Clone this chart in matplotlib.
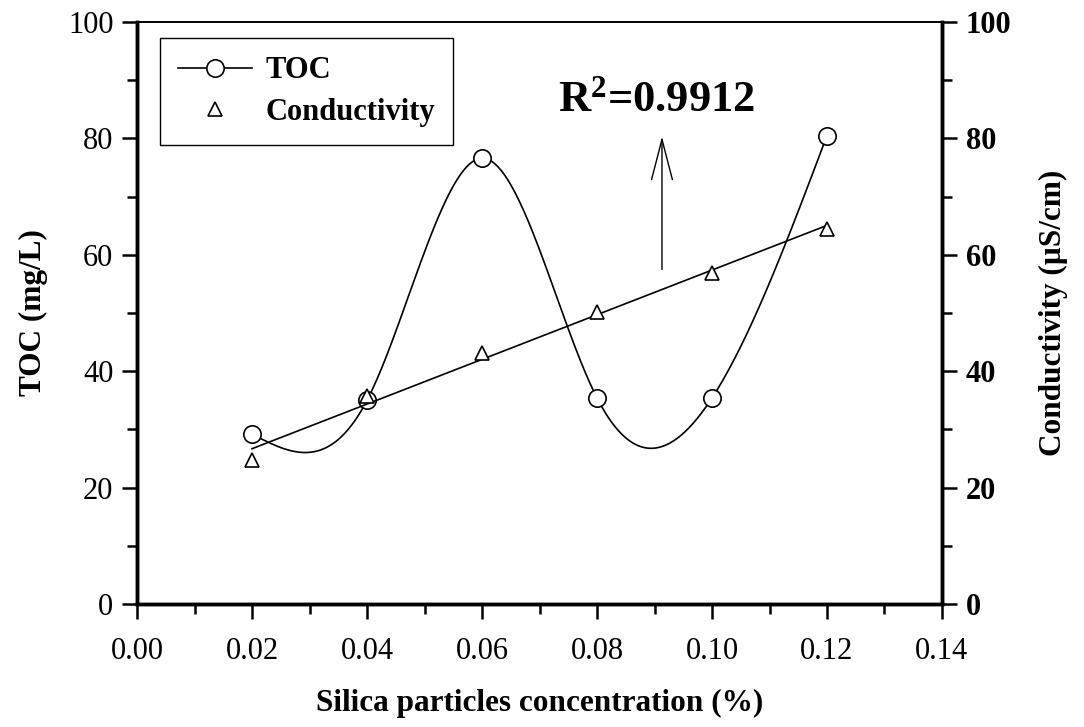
import numpy as np
import matplotlib.pyplot as plt
from matplotlib.ticker import MultipleLocator

plt.rcParams['font.family'] = ['Liberation Serif', 'DejaVu Serif']
plt.rcParams['mathtext.fontset'] = 'custom'
plt.rcParams['mathtext.rm'] = 'Liberation Serif'
plt.rcParams['mathtext.bf'] = 'Liberation Serif:bold'

conc = [0.02, 0.04, 0.06, 0.08, 0.10, 0.12]
toc = [29.2, 35.0, 76.6, 35.4, 35.4, 80.5]
conductivity = [24.8, 35.7, 43.2, 50.2, 56.9, 64.4]
r2_text = r"$\mathbf{R^{2}}$=0.9912"


def natural_spline(x, y, xs):
    # plain natural cubic spline, no scipy needed
    x = np.asarray(x, float)
    y = np.asarray(y, float)
    n = len(x)
    h = np.diff(x)
    A = np.zeros((n, n))
    b = np.zeros(n)
    A[0, 0] = A[-1, -1] = 1
    for i in range(1, n - 1):
        A[i, i - 1] = h[i - 1]
        A[i, i] = 2 * (h[i - 1] + h[i])
        A[i, i + 1] = h[i]
        b[i] = 6 * ((y[i + 1] - y[i]) / h[i] - (y[i] - y[i - 1]) / h[i - 1])
    M = np.linalg.solve(A, b)
    idx = np.clip(np.searchsorted(x, xs) - 1, 0, n - 2)
    x0, x1 = x[idx], x[idx + 1]
    hh = x1 - x0
    t0 = x1 - xs
    t1 = xs - x0
    return (M[idx] * t0**3 / (6 * hh) + M[idx + 1] * t1**3 / (6 * hh)
            + (y[idx] / hh - M[idx] * hh / 6) * t0
            + (y[idx + 1] / hh - M[idx + 1] * hh / 6) * t1)


fig = plt.figure(figsize=(10.84, 7.27), dpi=100)
ax = fig.add_axes([0.1264, 0.1692, 0.7426, 0.8005])

xs = np.linspace(conc[0], conc[-1], 400)
ax.plot(xs, natural_spline(conc, toc, xs), color='black', lw=1.2)
ax.plot(conc, toc, 'o', ms=12.5, mfc='white', mec='black', mew=1.2)

# linear fit for conductivity
k, c = np.polyfit(conc, conductivity, 1)
fit_x = np.array([conc[0], conc[-1]])
ax2 = ax.twinx()
ax2.plot(fit_x, k * fit_x + c, color='black', lw=1.2)
ax2.plot(conc, conductivity, '^', ms=10.5, mfc='white', mec='black', mew=1.2)

ax.set_xlim(0, 0.14)
ax.set_ylim(0, 100)
ax2.set_ylim(0, 100)

ax.xaxis.set_major_locator(MultipleLocator(0.02))
ax.xaxis.set_minor_locator(MultipleLocator(0.01))
ax.yaxis.set_major_locator(MultipleLocator(20))
ax.yaxis.set_minor_locator(MultipleLocator(10))
ax2.yaxis.set_major_locator(MultipleLocator(20))
ax2.yaxis.set_minor_locator(MultipleLocator(10))
ax.xaxis.set_major_formatter(lambda v, p: f"{v:.2f}")

for a in (ax, ax2):
    a.tick_params(which='major', direction='out', length=11, width=1.8, labelsize=22)
    a.tick_params(which='minor', direction='out', length=7, width=1.8)
    for s in ('left', 'right', 'bottom'):
        a.spines[s].set_linewidth(2.5)
    a.spines['top'].set_linewidth(1.2)
ax.tick_params(axis='x', pad=13)
ax.tick_params(axis='y', pad=6)
ax2.tick_params(axis='y', pad=6)
for lab in ax2.get_yticklabels():
    lab.set_fontweight('bold')

ax.set_xlabel("Silica particles concentration (%)", fontsize=22.5, fontweight='bold', labelpad=16)
ax.set_ylabel("TOC (mg/L)", fontsize=22.5, fontweight='bold', labelpad=14)
ax2.set_ylabel("Conductivity (\u00b5S/cm)", fontsize=22.5, fontweight='bold', labelpad=20)

ax.annotate("", xy=(0.0913, 80.8), xytext=(0.0913, 57),
            arrowprops=dict(arrowstyle='->,head_length=2.9,head_width=0.75',
                            mutation_scale=10, color='black', lw=1.0))
ax.text(0.0904, 86.6, r2_text, fontsize=32, fontweight='bold', ha='center', va='center')

h1, = ax.plot([], [], '-o', color='black', ms=12.5, mfc='white', mec='black', mew=1.2, lw=1.2)
h2, = ax.plot([], [], '^', ms=10.5, mfc='white', mec='black', mew=1.2)
leg = ax.legend([h1, h2], ["TOC", "Conductivity"], loc='upper left',
                bbox_to_anchor=(0.0286, 0.9725), prop={'weight': 'bold', 'size': 22},
                fancybox=False, edgecolor='black', framealpha=1,
                handlelength=2.4, borderpad=0.6, labelspacing=0.4, handletextpad=0.45,
                borderaxespad=0)
leg.get_frame().set_linewidth(1.0)

fig.savefig("out.png", dpi=100)
